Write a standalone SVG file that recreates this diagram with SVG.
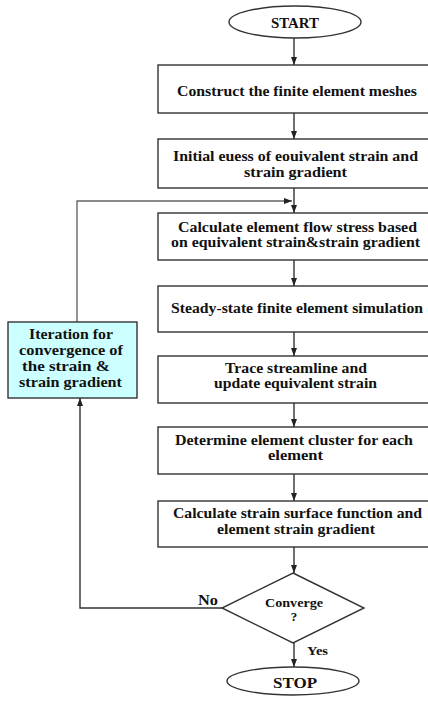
<svg xmlns="http://www.w3.org/2000/svg" width="428" height="704" viewBox="0 0 428 704">
<defs>
<marker id="ah" markerWidth="8" markerHeight="8" refX="8" refY="4" orient="auto" markerUnits="userSpaceOnUse"><path d="M0,1 L8,4 L0,7 z" fill="#222"/></marker>
<style>
.box{fill:#fff;stroke:#333;stroke-width:1.4}
.iter{fill:#ccffff;stroke:#333;stroke-width:1.4}
text{font-family:'Liberation Serif','DejaVu Serif',serif;font-weight:bold;font-size:15px;fill:#111}
.s{font-size:13px}
.c{fill:none;stroke:#333;stroke-width:1.4}
.fb{fill:none;stroke:#666;stroke-width:1.4}
</style>
</defs>
<rect width="428" height="704" fill="#fff"/>
<g id="connectors">
<line class="c" x1="294" y1="38" x2="294" y2="65" marker-end="url(#ah)"/>
<line class="c" x1="294" y1="113" x2="294" y2="139" marker-end="url(#ah)"/>
<line class="c" x1="294" y1="188" x2="294" y2="213" marker-end="url(#ah)"/>
<line class="c" x1="294" y1="260" x2="294" y2="286" marker-end="url(#ah)"/>
<line class="c" x1="294" y1="332" x2="294" y2="356" marker-end="url(#ah)"/>
<line class="c" x1="294" y1="403" x2="294" y2="427" marker-end="url(#ah)"/>
<line class="c" x1="294" y1="474" x2="294" y2="501" marker-end="url(#ah)"/>
<line class="c" x1="294" y1="547" x2="294" y2="573" marker-end="url(#ah)"/>
<line class="c" x1="294" y1="643" x2="294" y2="667" marker-end="url(#ah)"/>
<polyline class="fb" points="77,322 77,201 292,201" marker-end="url(#ah)"/>
<polyline class="c" points="222,608 80,608 80,398" marker-end="url(#ah)"/>
<text x="198" y="605" textLength="20" lengthAdjust="spacingAndGlyphs">No</text>
<text class="s" x="307" y="655" textLength="21" lengthAdjust="spacingAndGlyphs">Yes</text>
</g>
<g id="start">
<ellipse class="box" cx="295" cy="22" rx="66" ry="16"/>
<text x="271" y="28" textLength="48" lengthAdjust="spacingAndGlyphs">START</text>
</g>
<g id="mesh">
<rect class="box" x="158" y="65" width="276" height="48"/>
<text x="177" y="96" textLength="240" lengthAdjust="spacingAndGlyphs">Construct the finite element meshes</text>
</g>
<g id="guess">
<rect class="box" x="158" y="139" width="276" height="49"/>
<text x="173" y="161" textLength="245" lengthAdjust="spacingAndGlyphs">Initial euess of eouivalent strain and</text>
<text x="244" y="177" textLength="103" lengthAdjust="spacingAndGlyphs">strain gradient</text>
</g>
<g id="flowstress">
<rect class="box" x="158" y="213" width="276" height="47"/>
<text x="178" y="232" textLength="239" lengthAdjust="spacingAndGlyphs">Calculate element flow stress based</text>
<text x="171" y="247" textLength="249" lengthAdjust="spacingAndGlyphs">on equivalent strain&amp;strain gradient</text>
</g>
<g id="simulation">
<rect class="box" x="158" y="286" width="276" height="46"/>
<text x="171" y="313" textLength="252" lengthAdjust="spacingAndGlyphs">Steady-state finite element simulation</text>
</g>
<g id="streamline">
<rect class="box" x="158" y="356" width="276" height="47"/>
<text x="225" y="373" textLength="142" lengthAdjust="spacingAndGlyphs">Trace streamline and</text>
<text x="214" y="388" textLength="163" lengthAdjust="spacingAndGlyphs">update equivalent strain</text>
</g>
<g id="cluster">
<rect class="box" x="158" y="427" width="276" height="47"/>
<text x="175" y="445" textLength="238" lengthAdjust="spacingAndGlyphs">Determine element cluster for each</text>
<text x="268" y="460" textLength="55" lengthAdjust="spacingAndGlyphs">element</text>
</g>
<g id="surface">
<rect class="box" x="158" y="501" width="276" height="46"/>
<text x="173" y="518" textLength="249" lengthAdjust="spacingAndGlyphs">Calculate strain surface function and</text>
<text x="217" y="534" textLength="158" lengthAdjust="spacingAndGlyphs">element strain gradient</text>
</g>
<g id="converge">
<polygon class="box" points="293,573 364,608 293,643 222,608"/>
<text class="s" x="265" y="607" textLength="58" lengthAdjust="spacingAndGlyphs">Converge</text>
<text class="s" x="294" y="621" text-anchor="middle">?</text>
</g>
<g id="stop">
<ellipse class="box" cx="293" cy="681" rx="66" ry="14"/>
<text x="273" y="688" textLength="44" lengthAdjust="spacingAndGlyphs">STOP</text>
</g>
<g id="iteration">
<rect class="iter" x="8" y="322" width="129" height="76"/>
<text x="29" y="339" textLength="84" lengthAdjust="spacingAndGlyphs">Iteration for</text>
<text x="19" y="355" textLength="104" lengthAdjust="spacingAndGlyphs">convergence of</text>
<text x="22" y="371" textLength="88" lengthAdjust="spacingAndGlyphs">the strain &amp;</text>
<text x="19" y="387" textLength="103" lengthAdjust="spacingAndGlyphs">strain gradient</text>
</g>
</svg>
